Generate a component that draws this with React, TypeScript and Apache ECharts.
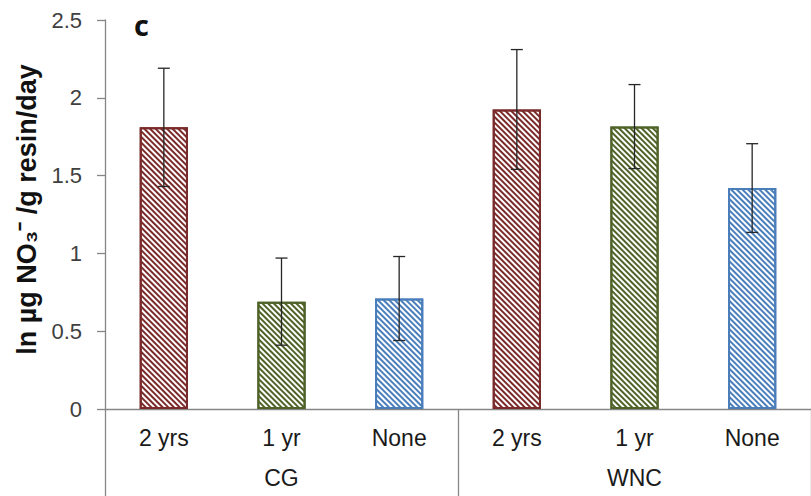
import React, { useEffect, useRef } from "react";
import * as echarts from "echarts";

// Treatment labels (inner axis) and site groups (outer axis)
const treatments = ["2 yrs", "1 yr", "None", "2 yrs", "1 yr", "None"];
const sites = ["CG", "WNC"];

// Mean ln µg NO3- /g resin/day and the half-width of each error bar
const means = [1.81, 0.69, 0.71, 1.925, 1.815, 1.42];
const errors = [0.38, 0.28, 0.27, 0.385, 0.27, 0.285];

const yTicks = { min: 0, max: 2.5, interval: 0.5 };

// Stroke colours for 2 yrs / 1 yr / None
const treatmentColors = ["#7a2a2a", "#4f6228", "#4a7ebb"];

const AXIS_GREY = "#868686";
const TEXT_GREY = "#404040";
const FONT = "Liberation Sans, Arial, sans-serif";

export default function App() {
  const ref = useRef<HTMLDivElement>(null);

  useEffect(() => {
    if (!ref.current) return;
    const chart = echarts.init(ref.current, undefined, { renderer: "svg" });

    const barData = means.map((v, i) => {
      const c = treatmentColors[i % 3];
      return {
        value: v,
        itemStyle: {
          color: "#ffffff",
          borderColor: c,
          borderWidth: 2,
          decal: {
            symbol: "rect",
            symbolSize: 1,
            color: c,
            dashArrayX: [1, 0],
            dashArrayY: [1.3, 1.5],
            rotation: Math.PI / 4,
          },
        },
      };
    });

    const errData = means.map((v, i) => [i, v - errors[i], v + errors[i]]);

    chart.setOption({
      animation: false,
      grid: { left: 105, right: 0, top: 20, bottom: 87, containLabel: false },
      xAxis: [
        {
          type: "category",
          data: treatments,
          position: "bottom",
          axisLine: { show: true, lineStyle: { color: AXIS_GREY, width: 1.3 } },
          axisTick: { show: false },
          axisLabel: { color: "#1a1a1a", fontSize: 23, fontFamily: FONT, margin: 17 },
        },
        {
          type: "category",
          data: sites,
          position: "bottom",
          axisLine: { show: false },
          axisTick: {
            show: true,
            length: 87,
            interval: 0,
            alignWithLabel: false,
            lineStyle: { color: AXIS_GREY, width: 1.3 },
          },
          axisLabel: { color: "#1a1a1a", fontSize: 23, fontFamily: FONT, margin: 57 },
        },
      ],
      yAxis: {
        type: "value",
        min: yTicks.min,
        max: yTicks.max,
        interval: yTicks.interval,
        axisLine: { show: true, lineStyle: { color: AXIS_GREY, width: 1.3 } },
        axisTick: { show: true, length: 8, inside: false, lineStyle: { color: AXIS_GREY, width: 1.3 } },
        splitLine: { show: false },
        axisLabel: { color: TEXT_GREY, fontSize: 22, fontFamily: FONT, margin: 23 },
        name: "ln µg NO₃⁻ /g resin/day",
        nameLocation: "middle",
        nameGap: 63,
        nameRotate: 90,
        nameTextStyle: { color: "#111", fontSize: 27, fontWeight: "bold", fontFamily: FONT, padding: [0, 0, 0, 10] },
      },
      graphic: [
        {
          type: "text",
          left: 134,
          top: 10,
          style: { text: "c", fontSize: 29, fontWeight: "bold", fill: "#111", fontFamily: "Open Sans, sans-serif" },
        },
      ],
      series: [
        {
          type: "bar",
          xAxisIndex: 0,
          data: barData,
          barWidth: "41%",
        },
        {
          type: "custom",
          xAxisIndex: 0,
          data: errData,
          z: 10,
          renderItem: (params: any, api: any) => {
            const x = api.value(0);
            const lo = api.coord([x, api.value(1)]);
            const hi = api.coord([x, api.value(2)]);
            const half = 6;
            const style = { stroke: "#262626", lineWidth: 1.3 };
            return {
              type: "group",
              children: [
                { type: "line", shape: { x1: hi[0], y1: hi[1], x2: lo[0], y2: lo[1] }, style },
                { type: "line", shape: { x1: hi[0] - half, y1: hi[1], x2: hi[0] + half, y2: hi[1] }, style },
                { type: "line", shape: { x1: lo[0] - half, y1: lo[1], x2: lo[0] + half, y2: lo[1] }, style },
              ],
            };
          },
        },
      ],
    });

    return () => chart.dispose();
  }, []);

  return (
    <div
      ref={ref}
      style={{ position: "fixed", left: 0, top: 0, width: 811, height: 496, background: "#fff" }}
    />
  );
}
